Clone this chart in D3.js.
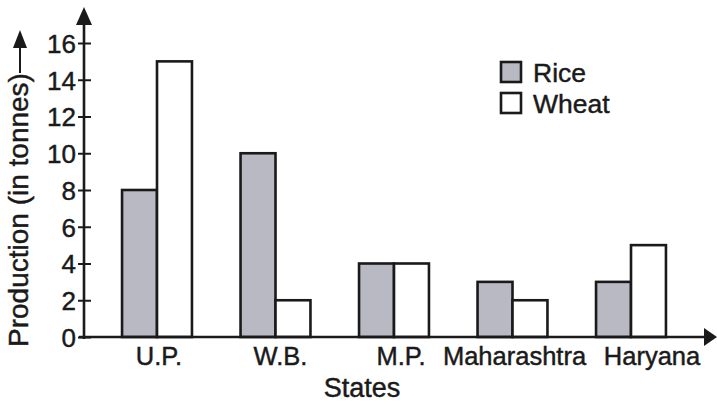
<!DOCTYPE html>
<html>
<head>
<meta charset="utf-8">
<script src="https://cdn.jsdelivr.net/npm/d3@7"></script>
<style>
  html, body { margin: 0; padding: 0; background: #fff; }
  svg { display: block; }
  text { font-family: "Liberation Sans", Arial, sans-serif; fill: #1a1a1a; stroke: #1a1a1a; stroke-width: 0.45px; }
</style>
</head>
<body>
<script>
const states = ["U.P.", "W.B.", "M.P.", "Maharashtra", "Haryana"];
const series = ["Rice", "Wheat"];
const rice = [8, 10, 4, 3, 3];
const wheat = [15, 2, 4, 2, 5];
const yTicks = [0, 2, 4, 6, 8, 10, 12, 14, 16];
const yTitle = "Production (in tonnes)";
const xTitle = "States";

// layout (label nudges as placed in the reference)
const labelNudge = [2, 5, 7, 2, 21];

const W = 717, H = 404;
const colors = { Rice: "#b9b9c3", Wheat: "#ffffff" };
const values = { Rice: rice, Wheat: wheat };

const svg = d3.select("body").append("svg").attr("width", W).attr("height", H);

const axisX = 84, axisY = 337;
const y = d3.scaleLinear().domain([0, 16]).range([axisY, 43]);
const x0 = d3.scaleBand().domain(states).range([97.75, 690.25]).paddingInner(0.41).paddingOuter(0.205);
const x1 = d3.scaleBand().domain(series).range([0, x0.bandwidth()]);

// bars
const g = svg.append("g");
states.forEach((s, i) => {
  series.forEach(k => {
    const v = values[k][i];
    g.append("rect")
      .attr("x", x0(s) + x1(k))
      .attr("y", y(v))
      .attr("width", x1.bandwidth())
      .attr("height", y(0) - y(v))
      .attr("fill", colors[k])
      .attr("stroke", "#1a1a1a")
      .attr("stroke-width", 2.6);
  });
});

// y axis
const yAxis = svg.append("g").attr("transform", `translate(${axisX},0)`)
  .call(d3.axisLeft(y).tickValues(yTicks).tickSize(6).tickPadding(2).tickFormat(d3.format("d")));
yAxis.select(".domain").remove();
yAxis.selectAll(".tick line").attr("x1", 7).attr("x2", -6).attr("stroke", "#1a1a1a").attr("stroke-width", 2);
yAxis.selectAll(".tick text").attr("font-size", 26).attr("font-family", "Liberation Sans, Arial, sans-serif").attr("fill", "#1a1a1a").attr("dy", "0.36em");

svg.append("line").attr("x1", axisX).attr("x2", axisX).attr("y1", axisY + 2).attr("y2", 22)
  .attr("stroke", "#1a1a1a").attr("stroke-width", 2.6);
svg.append("path").attr("d", `M${axisX},7 L${axisX - 8},25 L${axisX + 8},25 Z`).attr("fill", "#1a1a1a");

// x axis
svg.append("line").attr("x1", 79).attr("x2", 706).attr("y1", axisY).attr("y2", axisY)
  .attr("stroke", "#1a1a1a").attr("stroke-width", 2.6);
svg.append("path").attr("d", `M717,${axisY} L704,${axisY - 9} L704,${axisY + 9} Z`).attr("fill", "#1a1a1a");

const xAxis = svg.append("g").attr("transform", `translate(0,${axisY})`)
  .call(d3.axisBottom(x0).tickSize(0).tickPadding(0));
xAxis.select(".domain").remove();
xAxis.selectAll(".tick text").attr("font-size", 25.5).attr("font-family", "Liberation Sans, Arial, sans-serif")
  .attr("fill", "#1a1a1a").attr("dy", null).attr("y", 28)
  .attr("x", (d, i) => labelNudge[i]);

// titles
svg.append("text").attr("x", 362).attr("y", 397).attr("text-anchor", "middle")
  .attr("font-size", 27).text(xTitle);

svg.append("text").attr("transform", "translate(28,347) rotate(-90)")
  .attr("text-anchor", "start").attr("font-size", 28).text(yTitle);
svg.append("line").attr("x1", 20).attr("x2", 20).attr("y1", 73).attr("y2", 46)
  .attr("stroke", "#1a1a1a").attr("stroke-width", 2);
svg.append("path").attr("d", `M20,30 L13,48 L27,48 Z`).attr("fill", "#1a1a1a");

// legend
const leg = svg.append("g");
series.forEach((k, i) => {
  const yy = 62 + i * 31;
  leg.append("rect").attr("x", 501).attr("y", yy).attr("width", 20).attr("height", 20)
    .attr("fill", colors[k]).attr("stroke", "#1a1a1a").attr("stroke-width", 2.6);
  leg.append("text").attr("x", 533).attr("y", yy + 20).attr("font-size", 26.5).text(k);
});
</script>
</body>
</html>
